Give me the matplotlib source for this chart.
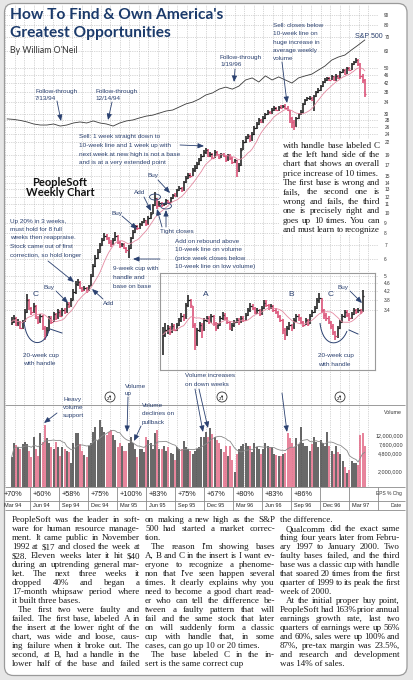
import numpy as np
import pandas as pd
import matplotlib
matplotlib.use("Agg")
import matplotlib.pyplot as plt
from matplotlib.patches import FancyBboxPatch, Rectangle, Ellipse, Circle, PathPatch
from matplotlib.path import Path
from matplotlib.ticker import NullLocator

W, H = 413, 680
NAVY = "#2b4170"
PINK = "#d9466f"
INK = "#151515"
SANS = ["Liberation Sans", "DejaVu Sans"]
SERIF = ["Liberation Serif", "DejaVu Serif"]

# ---- weekly PeopleSoft bars, Mar 94 - Mar 97 (first bar = chart week 2) ----
first_week = 2
close = [3.00, 3.13, 2.90, 3.00, 2.80, 3.00, 3.35, 3.82, 3.50, 3.35,
         3.58, 3.13, 3.00, 3.20, 2.80, 2.60, 2.74, 3.13, 3.00, 3.27,
         3.13, 3.35, 3.20, 3.42, 3.35, 3.66, 3.58, 3.82, 4.17, 4.56,
         4.66, 4.36, 4.26, 4.36, 4.22, 4.46, 4.98, 5.56, 6.08, 6.49,
         7.02, 7.42, 7.75, 7.58, 7.25, 7.09, 7.42, 7.75, 7.25, 6.94,
         7.09, 6.79, 6.64, 6.79, 7.58, 8.10, 8.66, 8.47, 8.85, 9.05,
         9.25, 8.85, 9.50, 9.90, 10.9, 11.8, 10.8, 11.2, 10.9, 11.0,
         11.5, 11.3, 11.8, 12.2, 12.1, 12.9, 13.2, 12.9, 14.1, 14.8,
         15.2, 15.1, 16.1, 16.5, 17.2, 17.9, 18.8, 19.6, 20.1, 18.8,
         19.2, 18.4, 19.6, 19.0, 18.4, 19.2, 18.8, 17.9, 19.0, 18.4,
         17.5, 17.9, 16.1, 17.0, 20.1, 21.9, 22.9, 23.4, 22.4, 24.0,
         25.6, 26.8, 28.0, 27.4, 28.6, 29.9, 30.6, 30.2, 31.2, 32.0,
         31.2, 32.3, 32.0, 32.7, 32.0, 31.2, 28.6, 27.4, 26.2, 28.6,
         29.9, 30.6, 33.4, 34.9, 35.7, 35.7, 34.9, 36.5, 38.2, 39.0,
         40.8, 42.6, 43.6, 44.6, 43.6, 45.6, 43.6, 45.6, 44.6, 47.6,
         48.7, 46.6, 49.8, 48.7, 52.0, 53.2, 54.4, 52.0, 45.6, 43.6,
         37.3]
high = [3.15, 3.22, 3.15, 3.08, 3.02, 3.06, 3.45, 4.10, 3.85, 3.55,
        3.70, 3.60, 3.20, 3.28, 3.22, 2.85, 2.82, 3.20, 3.18, 3.35,
        3.30, 3.45, 3.40, 3.48, 3.50, 3.72, 3.75, 3.90, 4.30, 4.70,
        4.80, 4.70, 4.42, 4.45, 4.40, 4.52, 5.10, 5.70, 6.25, 6.70,
        7.20, 7.60, 8.00, 7.90, 7.65, 7.40, 7.55, 8.10, 7.80, 7.30,
        7.20, 7.15, 6.90, 7.00, 7.70, 8.25, 8.80, 8.75, 9.00, 9.20,
        9.45, 9.30, 9.65, 10.1, 11.1, 12.6, 11.8, 11.4, 11.3, 11.2,
        11.7, 11.6, 12.0, 12.4, 12.5, 13.1, 13.5, 13.4, 14.3, 15.1,
        15.6, 15.5, 16.4, 17.0, 17.6, 18.3, 19.2, 20.1, 20.6, 20.3,
        19.6, 19.4, 20.0, 19.8, 19.2, 19.5, 19.4, 19.0, 19.3, 19.2,
        18.6, 18.2, 18.0, 17.4, 20.5, 22.4, 23.4, 24.0, 23.6, 24.5,
        26.2, 27.4, 28.6, 28.4, 29.2, 30.4, 31.2, 31.0, 31.8, 32.6,
        32.3, 32.8, 32.9, 33.2, 33.5, 32.6, 31.4, 29.0, 28.0, 29.0,
        30.4, 31.2, 33.9, 35.5, 36.3, 36.5, 36.0, 37.0, 38.8, 39.8,
        41.4, 43.2, 44.4, 45.2, 45.0, 46.2, 45.8, 46.4, 46.0, 48.2,
        49.4, 49.0, 50.4, 50.6, 52.6, 54.0, 55.8, 55.0, 52.4, 46.8,
        44.0]
low = [2.88, 2.95, 2.85, 2.86, 2.76, 2.78, 2.98, 3.30, 3.42, 3.25,
       3.30, 3.08, 2.92, 2.95, 2.75, 2.45, 2.55, 2.72, 2.92, 2.98,
       3.05, 3.10, 3.15, 3.18, 3.28, 3.32, 3.50, 3.55, 3.80, 4.10,
       4.45, 4.30, 4.18, 4.20, 4.12, 4.20, 4.45, 4.95, 5.50, 6.00,
       6.40, 6.95, 7.35, 7.40, 7.10, 6.90, 7.00, 7.35, 7.10, 6.80,
       6.85, 6.70, 6.40, 6.05, 6.75, 7.50, 8.00, 8.30, 8.40, 8.70,
       8.95, 8.70, 8.80, 9.40, 9.85, 10.8, 10.5, 10.7, 10.7, 10.8,
       10.9, 11.1, 11.2, 11.7, 11.9, 12.0, 12.7, 12.6, 12.8, 14.0,
       14.5, 14.7, 15.0, 15.8, 16.3, 17.0, 17.7, 18.6, 19.3, 18.5,
       18.6, 18.1, 18.3, 18.7, 18.1, 18.3, 18.5, 17.6, 17.8, 18.0,
       17.2, 17.3, 14.9, 15.8, 16.9, 20.0, 21.7, 22.6, 22.0, 22.3,
       23.8, 25.4, 26.5, 27.0, 27.2, 28.4, 29.6, 29.8, 30.0, 30.9,
       30.8, 31.0, 31.6, 31.8, 31.6, 30.8, 27.2, 25.6, 25.0, 26.0,
       28.2, 29.5, 30.4, 33.0, 34.5, 35.0, 34.4, 31.0, 36.0, 37.6,
       38.6, 40.5, 42.2, 43.0, 43.0, 43.4, 43.0, 43.2, 44.0, 44.4,
       47.0, 46.0, 46.4, 48.0, 48.6, 51.5, 52.4, 51.0, 44.0, 42.0,
       36.1]
# weekly volume, millions of shares
volume = [4.0, 8.3, 7.5, 6.6, 5.9, 7.6, 8.7, 7.6, 5.5, 4.0,
          11.2, 6.0, 4.2, 13.5, 8.7, 20.0, 10.6, 8.0, 6.6, 5.9,
          8.7, 6.6, 4.2, 6.6, 6.0, 5.4, 5.1, 3.0, 8.0, 13.5,
          13.5, 7.6, 5.4, 4.5, 4.0, 6.9, 8.3, 14.0, 18.1, 9.6,
          25.8, 18.1, 14.0, 12.3, 14.1, 15.7, 12.0, 9.6, 6.6, 8.3,
          7.0, 5.4, 5.4, 8.0, 11.2, 8.3, 6.0, 4.0, 5.9, 5.9,
          5.1, 11.2, 9.6, 8.3, 5.9, 13.5, 15.7, 5.9, 6.0, 6.9,
          5.4, 6.6, 5.0, 4.7, 3.5, 6.6, 6.0, 5.9, 9.0, 6.6,
          6.0, 5.4, 4.7, 5.4, 6.0, 6.6, 11.2, 11.2, 14.1, 11.2,
          17.3, 13.0, 11.2, 9.6, 8.3, 6.0, 5.1, 6.9, 4.2, 6.9,
          3.5, 1.9, 4.7, 6.0, 6.9, 7.6, 8.3, 7.0, 6.9, 5.1,
          8.3, 6.6, 5.9, 4.7, 6.0, 8.3, 6.9, 6.6, 6.6, 4.7,
          4.4, 4.2, 4.2, 4.7, 5.0, 13.5, 10.6, 8.0, 6.6, 10.6,
          7.6, 18.1, 8.3, 6.9, 6.9, 5.4, 7.6, 11.2, 8.7, 6.6,
          9.6, 8.0, 6.9, 14.1, 6.9, 5.5, 4.7, 6.9, 5.2, 4.7,
          3.3, 2.4, 1.8, 2.1, 3.3, 3.0, 3.0, 2.7, 12.3, 13.5,
          6.9]

# S&P 500, read every 3rd week from week 0
sp_step = 3
sp500 = [480, 478, 474, 468, 460, 456, 456, 460, 452, 456,
         464, 468, 464, 472, 464, 460, 452, 464, 472, 476,
         484, 491, 495, 503, 511, 515, 527, 539, 546, 558,
         574, 582, 597, 605, 597, 609, 633, 641, 625, 649,
         633, 645, 633, 621, 641, 649, 656, 672, 688, 711,
         723, 731, 751, 770, 790]

# insert: the 1992-93 bases A, B and C
inset_close = [2.60, 2.74, 2.80, 2.68, 2.87, 2.74, 2.90, 3.06, 3.20, 3.13,
               3.61, 3.82, 3.61, 2.90, 2.32, 2.74, 2.90, 2.74, 3.06, 3.13,
               3.00, 3.20, 2.93, 2.80, 2.90, 3.13, 3.24, 3.13, 3.00, 2.80,
               2.90, 3.00, 3.06, 3.00, 3.13, 3.06, 3.24, 3.42, 3.58, 3.50,
               3.35, 3.42, 3.27, 3.50, 3.70, 3.61, 3.50, 3.58, 3.42, 3.35,
               3.20, 3.06, 2.74, 2.60, 2.80, 2.90, 2.80, 3.06, 3.20, 3.13,
               3.00, 2.90, 3.06, 2.93, 3.20, 3.35, 3.50, 3.82, 3.90, 3.42,
               3.24, 3.13, 3.00, 2.87, 2.68, 2.57, 2.80, 3.00, 3.20, 3.35,
               3.24, 3.13, 3.27, 3.42, 3.35, 3.42, 3.35, 3.99]
inset_high = [2.84, 2.95, 2.90, 2.86, 2.95, 2.92, 2.96, 3.12, 3.31, 3.28,
              3.70, 4.04, 3.88, 3.58, 2.95, 2.80, 2.98, 2.95, 3.12, 3.20,
              3.18, 3.28, 3.22, 2.98, 2.96, 3.20, 3.35, 3.30, 3.16, 3.04,
              2.96, 3.06, 3.12, 3.12, 3.20, 3.18, 3.30, 3.50, 3.70, 3.66,
              3.54, 3.48, 3.46, 3.56, 3.82, 3.80, 3.66, 3.64, 3.60, 3.48,
              3.38, 3.24, 3.08, 2.80, 2.86, 2.98, 2.94, 3.12, 3.28, 3.26,
              3.16, 3.04, 3.12, 3.10, 3.26, 3.42, 3.58, 3.92, 4.12, 3.92,
              3.46, 3.30, 3.18, 3.04, 2.92, 2.72, 2.86, 3.06, 3.26, 3.42,
              3.40, 3.30, 3.33, 3.48, 3.46, 3.48, 3.46, 4.26]
inset_low = [2.08, 2.54, 2.62, 2.60, 2.66, 2.70, 2.70, 2.86, 2.98, 3.02,
             3.10, 3.55, 3.50, 2.80, 2.20, 2.30, 2.68, 2.51, 2.72, 2.98,
             2.92, 2.96, 2.86, 2.72, 2.76, 2.86, 3.06, 3.06, 2.92, 2.74,
             2.72, 2.84, 2.95, 2.90, 2.96, 2.98, 3.02, 3.18, 3.35, 3.40,
             3.26, 3.28, 3.20, 3.24, 3.45, 3.52, 3.42, 3.44, 3.35, 3.26,
             3.12, 2.98, 2.62, 2.45, 2.55, 2.74, 2.72, 2.78, 3.00, 3.04,
             2.92, 2.84, 2.88, 2.86, 2.92, 3.16, 3.30, 3.46, 3.70, 3.30,
             3.10, 3.04, 2.92, 2.78, 2.58, 2.45, 2.52, 2.76, 2.96, 3.14,
             3.16, 3.04, 3.08, 3.22, 3.28, 3.30, 3.28, 3.35]

price_ticks = [90, 80, 70, 60, 50, 46, 42, 38, 34, 30, 28, 26, 24, 22, 19, 17,
               15, 14, 13, 12, 11, 10, 9, 8, 7, 6, 5, 4.6, 4.2, 3.8, 3.4]
vol_ticks = [2e6, 4.8e6, 7.6e6, 12e6]
vol_labels = ["2,000,000", "4,800,000", "7,600,000", "12,000,000"]
quarters = ["Mar 94", "Jun 94", "Sep 94", "Dec 94", "Mar 95", "Jun 95", "Sep 95",
            "Dec 95", "Mar 96", "Jun 96", "Sep 96", "Dec 96", "Mar 97"]
eps_chg = ["+70%", "+60%", "+58%", "+75%", "+100%", "+83%", "+75%", "+67%",
           "+80%", "+83%", "+86%", "", ""]

side_text = ["with handle base labeled C",
             "at the left hand side of the",
             "chart that shows an overall",
             "price increase of 10 times.",
             "The first base is wrong and",
             "fails, the second one is",
             "wrong and fails, the third",
             "one is precisely right and",
             "goes up 10 times. You can",
             "and must learn to recognize"]
col1 = ["PeopleSoft was the leader in soft-",
        "ware for human resource manage-",
        "ment. It came public in November",
        "1992 at $17 and closed the week at",
        "$28. Eleven weeks later it hit $40",
        "during an uptrending general mar-",
        "ket. The next three weeks it",
        "dropped 40% and began a",
        "17-month whipsaw period where",
        "it built three bases.",
        " The first two were faulty and",
        "failed. The first base, labeled A in",
        "the insert at the lower right of the",
        "chart, was wide and loose, caus-",
        "ing failure when it broke out. The",
        "second, at B, had a handle in the",
        "lower half of the base and failed"]
col2 = ["on making a new high as the S&P",
        "500 had started a market correc-",
        "tion.",
        " The reason I'm showing bases",
        "A, B and C in the insert is I want ev-",
        "eryone to recognize a phenome-",
        "non that I've seen happen several",
        "times. It clearly explains why you",
        "need to become a good chart read-",
        "er who can tell the difference be-",
        "tween a faulty pattern that will",
        "fail and the same stock that later",
        "on will suddenly form a classic",
        "cup with handle that, in some",
        "cases, can go up 10 or 20 times.",
        " The base labeled C in the in-",
        "sert is the same correct cup"]
col3 = ["the difference.",
        " Qualcomm did the exact same",
        "thing four years later from Febru-",
        "ary 1997 to January 2000. Two",
        "faulty bases failed, and the third",
        "base was a classic cup with handle",
        "that soared 20 times from the first",
        "quarter of 1999 to its peak the first",
        "week of 2000.",
        " At the initial proper buy point,",
        "PeopleSoft had 163% prior annual",
        "earnings growth rate, last two",
        "quarters of earnings were up 56%",
        "and 60%, sales were up 100% and",
        "87%, pre-tax margin was 23.5%,",
        "and research and development",
        "was 14% of sales."]

# ---- page geometry: pixels, y counted from the top ----
PXW = 2.231                      # pixels per week


def wk(px):
    return -1 + (px - 1) / PXW


def price_at(ypx):
    return 10 * 10 ** ((213 - ypx) / 208)


def vol_at(ypx):
    return 0.9e6 * 10 ** ((487 - ypx) / 46)


fig = plt.figure(figsize=(W / 100, H / 100), dpi=100)
fig.patch.set_facecolor("#e6e6e6")


def axes_px(x0, y0, x1, y1, **kw):
    return fig.add_axes([x0 / W, 1 - y1 / H, (x1 - x0) / W, (y1 - y0) / H], **kw)


bg = axes_px(0, 0, W, H, zorder=0)
bg.set_xlim(0, W)
bg.set_ylim(H, 0)
bg.axis("off")
bg.add_patch(FancyBboxPatch((4.5, 3.5), 402.5, 672, boxstyle="round,pad=0,rounding_size=9",
                            fc="white", ec="#9a9a9a", lw=0.9))

months = [-1 + 13 * k / 3 for k in range(40)]
grid_kw = dict(color="#b0b0b0", lw=0.5, ls=(0, (1, 1.6)))

# ---- price pane ----
ax = axes_px(5, 5, 378, 405, zorder=2)
ax.set_facecolor("none")
weeks = np.arange(first_week, first_week + len(close))
c = np.array(close)
down = np.r_[False, c[1:] < c[:-1]]
cols = np.where(down, PINK, INK)
ax.set_yscale("log")
ax.vlines(weeks, low, high, colors=cols, lw=1.1)
ax.hlines(c, weeks, weeks + 0.6, colors=cols, lw=0.9)
ax.plot(weeks, pd.Series(close).rolling(10, min_periods=1).mean(), color="#e58aa2", lw=0.6)

sp = ax.twinx()
sp.set_ylim(460 - (405 - 124) / 0.2545, 460 + (124 - 5) / 0.2545)
sp.plot(np.arange(len(sp500)) * sp_step, sp500, color="#3a3a3a", lw=0.6)
sp.axis("off")

ax.set_xlim(wk(5), wk(378))
ax.set_ylim(price_at(405), price_at(5))
ax.set_yticks(price_ticks, [f"{t:g}" for t in price_ticks])
ax.yaxis.set_minor_locator(NullLocator())
ax.yaxis.tick_right()
ax.set_xticks(months)
ax.set_xticklabels([])
ax.tick_params(length=0)
ax.tick_params(axis="y", pad=4.5, labelsize=3.4, labelcolor="#333333")
for t in ax.get_yticklabels():
    t.set_family(SANS)
ax.grid(True, **grid_kw)
ax.set_axisbelow(True)
for s in ax.spines.values():
    s.set_visible(False)

# ---- volume pane ----
av = axes_px(5, 405, 378, 487, zorder=2)
av.set_facecolor("none")
av.set_yscale("log")
v = np.array(volume) * 1e6
av.vlines(weeks, vol_at(487), v, colors=np.where(down, "#e0607f", "#3c3c3c"), lw=1.1)
av.plot(weeks, pd.Series(v).rolling(10, min_periods=1).mean(), color="#8a8a8a", lw=0.6)
av.set_xlim(wk(5), wk(378))
av.set_ylim(vol_at(487), vol_at(405))
av.set_yticks(vol_ticks, vol_labels)
av.yaxis.set_minor_locator(NullLocator())
av.yaxis.tick_right()
av.set_xticks(months)
av.set_xticklabels([])
av.tick_params(length=0)
av.tick_params(axis="y", pad=18, labelsize=3.9, labelcolor="#333333")
for t in av.get_yticklabels():
    t.set_ha("right")
    t.set_family(SANS)
av.grid(True, axis="x", **grid_kw)
av.set_axisbelow(True)
for s in av.spines.values():
    s.set_visible(False)

# ---- EPS / date rows ----
ar = axes_px(5, 487, 378, 510, zorder=2)
ar.set_xlim(wk(5), wk(378))
ar.set_ylim(510, 487)
ar.axis("off")
qstarts = [-1 + 13 * k for k in range(len(quarters) + 1)]
ar.vlines(qstarts[1:], 487, 510, color="#8a8a8a", lw=0.6, clip_on=False)
for q, lab, e in zip(qstarts, quarters, eps_chg):
    ar.text(q + 1.3, 505.5, lab, fontsize=4.0, family=SANS, color="#222222", va="center")
    ar.text(q + 1.3, 494, e, fontsize=5.2, family=SANS, color="#222222", va="center")

# ---- insert ----
ai = axes_px(160, 273, 375, 370, zorder=3)
ai.set_facecolor("none")
ai.set_yscale("log")
jw = np.arange(len(inset_close))
ic = np.array(inset_close)
icol = np.where(np.r_[False, ic[1:] < ic[:-1]], PINK, INK)
ai.vlines(jw, inset_low, inset_high, colors=icol, lw=1.1)
ai.hlines(ic, jw, jw + 0.55, colors=icol, lw=0.9)
ai.plot(jw, pd.Series(inset_close).rolling(10, min_periods=1).mean(), color="#e58aa2", lw=0.6)
ai.set_xlim(-1.3, -1.3 + 215 / 2.3)
ai.set_ylim(price_at(370), price_at(273))
ai.set_xticks([])
ai.set_yticks([])
ai.yaxis.set_minor_locator(NullLocator())
for s in ai.spines.values():
    s.set_color("#9a9a9a")
    s.set_linewidth(0.8)

# ---- overlay: text and annotations ----
ov = axes_px(0, 0, W, H, zorder=5)
ov.set_xlim(0, W)
ov.set_ylim(H, 0)
ov.axis("off")
ov.hlines([405, 487, 500.5, 510], 5, 405, color="#8a8a8a", lw=0.6)
ov.text(402, 412, "Volume", fontsize=3.8, family=SANS, ha="right", va="center", color="#333")
ov.text(402, 494, "EPS % Chg", fontsize=3.5, family=SANS, ha="right", va="center", color="#333")
ov.text(402, 505.5, "Date", fontsize=3.8, family=SANS, ha="right", va="center", color="#333")

ov.text(10, 19, "How To Find & Own America's", fontsize=11.2, family=["Lato", "DejaVu Sans"],
        weight="bold", color="#1b3a6b", va="baseline")
ov.text(10, 37, "Greatest Opportunities", fontsize=11.2, family=["Lato", "DejaVu Sans"],
        weight="bold", color="#1b3a6b", va="baseline")
ov.text(10, 53, "By William O'Neil", fontsize=6.3, family=["Lato", "DejaVu Sans"],
        color="#333333", va="baseline")
ov.text(60, 182, "PeopleSoft", fontsize=8, family=["Lato", "DejaVu Sans"], weight="bold",
        color="#111111", ha="center", va="center")
ov.text(60, 193, "Weekly Chart", fontsize=8, family=["Lato", "DejaVu Sans"], weight="bold",
        color="#111111", ha="center", va="center")


def block(x, y, lines, dy=8.4, size=4.6, **kw):
    for k, s in enumerate(lines):
        ov.text(x, y + k * dy, s, fontsize=size, color=NAVY, family=SANS, va="baseline", **kw)


def arrow(x0, y0, x1, y1):
    ov.annotate("", xy=(x1, y1), xytext=(x0, y0),
                arrowprops=dict(arrowstyle="-|>,head_length=0.6,head_width=0.25",
                                mutation_scale=6, color=NAVY, lw=0.6, shrinkA=0, shrinkB=0))


block(35, 93.5, ["Follow-through", "7/13/94"], dy=7)
arrow(57, 101, 61, 121)
block(95, 93.5, ["Follow-through", "12/14/94"], dy=7)
arrow(112, 102, 108, 120)
block(220, 59, ["Follow-through", "1/19/96"], dy=7.5)
arrow(235, 69, 234, 82)
block(273, 27, ["Sell: closes below", "10-week line on", "huge increase in",
                "average weekly", "volume"], dy=8.3)
arrow(282, 62, 287, 103)
block(355, 38, ["S&P 500"], size=5)
block(79, 138, ["Sell: 1 week straight down to", "10-week line and 1 week up with",
                "next week at new high is not a base", "and is at a very extended point"], dy=8.8)
arrow(180, 145, 204, 146)
block(148, 177.5, ["Buy"])
arrow(158, 180, 170, 193)
block(134, 194, ["Add"])
arrow(144, 197, 151, 211)
block(112, 214.5, ["Buy"])
arrow(122, 216, 137, 229)
ov.add_patch(Ellipse((155, 197), 11, 6, fill=False, ec=NAVY, lw=0.6))
ov.add_patch(Ellipse((166, 206), 11, 6, fill=False, ec=NAVY, lw=0.6))
block(160, 233, ["Tight closes"])
arrow(162, 227, 157, 209)
arrow(166, 227, 166, 210)
block(175, 243, ["Add on rebound above", "10-week line on volume",
                 "(price week closes below", "10-week line on low volume)"], dy=8.3)
block(10, 222.5, ["Up 20% in 3 weeks,", "must hold for 8 full", "weeks then reappraise.",
                  "Stock came out of first", "correction, so hold longer"], dy=8.5)
arrow(48, 261, 74, 282)
block(113, 270, ["9-week cup with", "handle and", "base on base"], dy=8.8)
arrow(160, 259, 133, 259)
block(103, 305, ["Add"])
arrow(103, 299, 92, 289)
block(44, 289, ["Buy"])
arrow(56, 291, 68, 303)
block(33, 296, ["C"], size=6)
block(23, 357, ["20-week cup", "with handle"], dy=8.3)

cup = [(24, 322), (27, 349), (45, 347), (49, 330)]
ov.add_patch(PathPatch(Path(cup, [Path.MOVETO, Path.CURVE4, Path.CURVE4, Path.CURVE4]),
                       fill=False, ec=NAVY, lw=0.7))
ov.plot([50, 62], [329, 333], color=NAVY, lw=0.7)
cup2 = [(320, 323), (323, 349), (341, 347), (347, 331)]
ov.add_patch(PathPatch(Path(cup2, [Path.MOVETO, Path.CURVE4, Path.CURVE4, Path.CURVE4]),
                       fill=False, ec=NAVY, lw=0.7))
ov.plot([349, 358], [330, 334], color=NAVY, lw=0.7)

block(203, 296, ["A"], size=6)
block(288, 296, ["B"], size=6)
block(328, 296, ["C"], size=6)
block(338, 288.5, ["Buy"])
arrow(350, 291, 362, 303)
block(318, 357, ["20-week cup", "with handle"], dy=8.5)

block(185, 377, ["Volume increases", "on down weeks"], dy=8.5)
arrow(195, 389, 203, 432)
arrow(199, 389, 208, 428)
arrow(282, 393, 287, 432)
block(63, 401, ["Heavy", "volume", "support"], dy=8)
arrow(57, 413, 44, 423)
block(125, 388, ["Volume", "up"], dy=7)
arrow(128, 397, 127, 432)
block(142, 407, ["Volume", "declines on", "pullback"], dy=8.3)
arrow(141, 426, 134, 441)

for cx in (110, 222, 340):
    ov.add_patch(Circle((cx, 397), 5, fc="white", ec="#333333", lw=0.6, zorder=6))
    ov.text(cx, 399.2, "2/1", fontsize=3.0, family=SANS, ha="center", va="center", zorder=7)
    ov.text(cx, 394.6, "\u25b4", fontsize=3.0, family=["DejaVu Sans"], ha="center",
            va="center", zorder=7)

# justified book text
rend = fig.canvas.get_renderer()


def column(x0, x1, y0, dy, lines, size, ragged=()):
    for k, ln in enumerate(lines):
        y = y0 + k * dy
        ind = 6 if ln.startswith(" ") else 0
        words = ln.split()
        kw = dict(fontsize=size, family=SERIF, color="#1a1a1a", va="baseline", zorder=6)
        if k in ragged or ln.endswith(".") or len(words) < 2:
            ov.text(x0 + ind, y, " ".join(words), **kw)
            continue
        ts = [ov.text(0, y, w, **kw) for w in words]
        ws = [t.get_window_extent(rend).width for t in ts]
        room = x1 - x0 - ind
        if sum(ws) + 1.3 * (len(words) - 1) > room:
            f = (room - 1.3 * (len(words) - 1)) / sum(ws)
            for t in ts:
                t.set_fontsize(size * f)
            ws = [t.get_window_extent(rend).width for t in ts]
        gap = (room - sum(ws)) / (len(words) - 1)
        xx = x0 + ind
        for t, w in zip(ts, ws):
            t.set_x(xx)
            xx += w + gap


ov.add_patch(Rectangle((279, 139), 104, 96, fc="white", ec="none", zorder=5))
column(283, 380, 147.5, 9.4, side_text, 6.5)
column(12, 140, 522.5, 8.95, col1, 6.5)
column(145, 275, 522.5, 8.95, col2, 6.5, ragged=(16,))
column(280, 400, 522.5, 8.95, col3, 6.5)

fig.savefig("out.png", dpi=100, facecolor=fig.get_facecolor())
